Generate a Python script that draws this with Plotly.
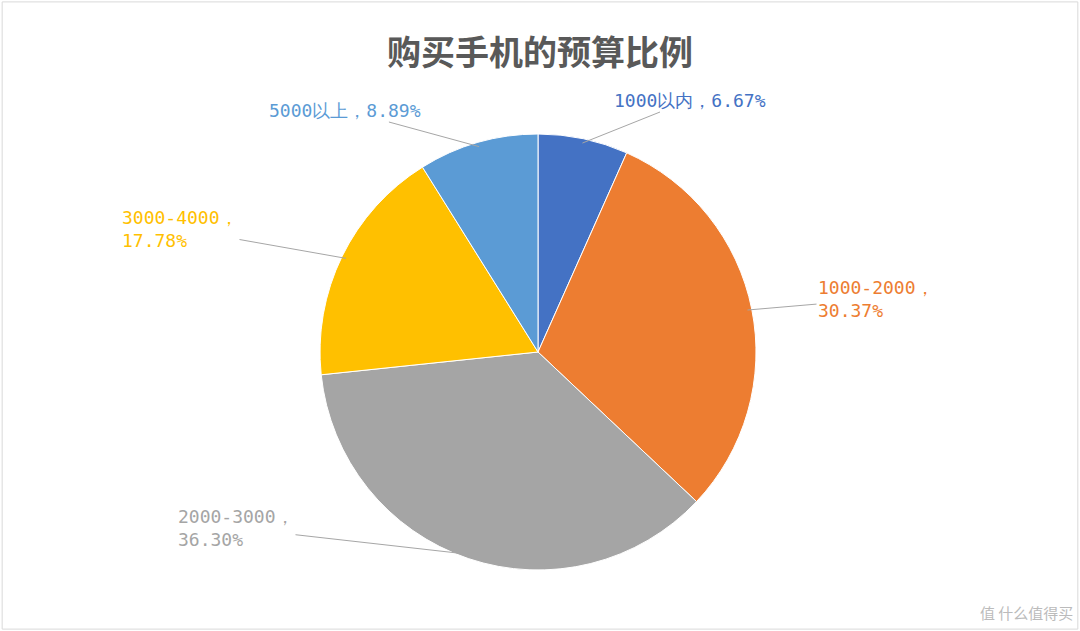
import math
import plotly.graph_objects as go

labels = ["1000以内", "1000-2000", "2000-3000", "3000-4000", "5000以上"]
values = [6.67, 30.37, 36.30, 17.78, 8.89]
colors = ["#4472C4", "#ED7D31", "#A5A5A5", "#FFC000", "#5B9BD5"]
text_labels = ["1000以内，6.67%", "1000-2000，<br>30.37%", "2000-3000，<br>36.30%",
               "3000-4000，<br>17.78%", "5000以上，8.89%"]
label_pos = [(690, 100), (876, 299), (236, 528), (180, 229), (345, 110)]

W, H = 1080, 631
cx, cy, R = 538, 352, 218

fig = go.Figure(go.Pie(
    labels=labels, values=values, sort=False, direction="clockwise", rotation=0,
    marker=dict(colors=colors, line=dict(color="white", width=1)),
    textinfo="none", hoverinfo="label+percent", showlegend=False,
    domain=dict(x=[(cx - R) / W, (cx + R) / W], y=[(H - cy - R) / H, (H - cy + R) / H]),
))

total = sum(values)
cum = 0
anns = []
for lab, v, col, (lx, ly) in zip(text_labels, values, colors, label_pos):
    mid = (cum + v / 2) / total * 2 * math.pi
    cum += v
    tx = cx + R * 0.98 * math.sin(mid)
    ty = cy - R * 0.98 * math.cos(mid)
    anns.append(dict(
        x=tx / W, y=1 - ty / H, xref="paper", yref="paper",
        ax=lx - tx, ay=ly - ty, text=lab, showarrow=True, arrowhead=0,
        arrowwidth=1, arrowcolor="#A6A6A6", align="left",
        font=dict(size=18, color=col, family="DejaVu Sans Mono"),
    ))
anns.append(dict(x=0.995, y=0.01, xref="paper", yref="paper", xanchor="right", yanchor="bottom",
                 text="值 什么值得买", showarrow=False,
                 font=dict(size=15, color="#BBBBBB", family="Noto Sans CJK SC")))

fig.update_layout(
    width=W, height=H, margin=dict(l=0, r=0, t=0, b=0),
    paper_bgcolor="white",
    title=dict(text="<b>购买手机的预算比例</b>", x=0.5, y=0.935, xanchor="center",
               font=dict(size=34, color="#595959", family="Noto Sans CJK SC")),
    annotations=anns,
    shapes=[dict(type="rect", xref="paper", yref="paper", x0=0.002, y0=0.003, x1=0.998, y1=0.997,
                 line=dict(color="#D9D9D9", width=1))],
)

fig.write_html("out.html", config={"displayModeBar": False},
               post_script="document.body.style.margin='0';")
